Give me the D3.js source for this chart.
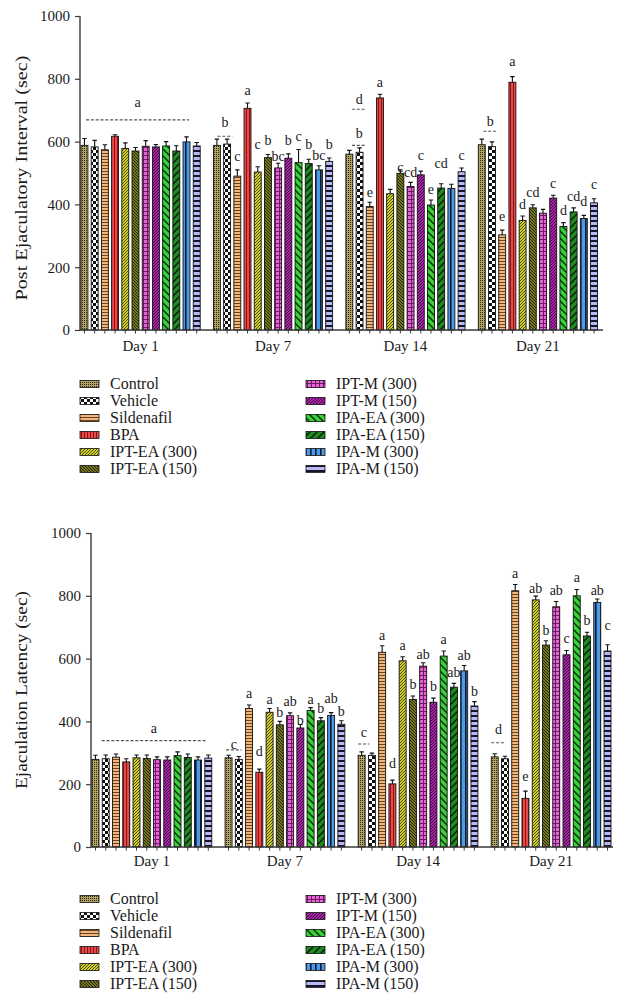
<!DOCTYPE html>
<html>
<head>
<meta charset="utf-8">
<script src="https://cdn.jsdelivr.net/npm/d3@7"></script>
<style>
  html, body { margin: 0; padding: 0; background: #fff; }
  svg { display: block; }
  text { font-family: "Liberation Serif", "Times New Roman", serif; fill: #1a1a1a; }
</style>
</head>
<body>
<svg id="chart" width="625" height="1004"></svg>
<script>
// ---------------- DATA ----------------
const days = ["Day 1", "Day 7", "Day 14", "Day 21"];
const groups = ["Control", "Vehicle", "Sildenafil", "BPA", "IPT-EA (300)", "IPT-EA (150)",
                "IPT-M (300)", "IPT-M (150)", "IPA-EA (300)", "IPA-EA (150)", "IPA-M (300)", "IPA-M (150)"];
const yTicks = [0, 200, 400, 600, 800, 1000];

// Post Ejaculatory Interval (sec)
const peiDay1  = [588, 583, 574, 617, 578, 570, 585, 583, 586, 570, 599, 586];
const peiDay7  = [588, 592, 490, 706, 503, 549, 516, 547, 533, 530, 510, 537];
const peiDay14 = [560, 566, 393, 739, 434, 499, 457, 494, 398, 452, 451, 504];
const peiDay21 = [590, 584, 303, 789, 349, 389, 372, 420, 330, 376, 355, 405];
const peiErr1  = [22, 21, 16, 5, 18, 11, 18, 8, 14, 17, 16, 11];
const peiErr7  = [20, 16, 20, 17, 17, 10, 15, 14, 42, 14, 13, 11];
const peiErr14 = [12, 14, 14, 12, 14, 11, 13, 12, 16, 14, 13, 12];
const peiErr21 = [18, 15, 15, 18, 14, 10, 12, 9, 12, 13, 10, 13];
const peiLet1  = ["", "", "", "", "", "", "", "", "", "", "", ""];
const peiLet7  = ["", "", "c", "a", "c", "b", "bc", "b", "c", "b", "bc", "b"];
const peiLet14 = ["", "", "e", "a", "", "c", "cd", "c", "e", "cd", "", "c"];
const peiLet21 = ["", "", "e", "a", "d", "cd", "", "c", "d", "cd", "d", "c"];
const peiLetY1  = [0, 0, 0, 0, 0, 0, 0, 0, 0, 0, 0, 0];
const peiLetY7  = [0, 0, 551, 764, 592, 602, 554, 602, 616, 592, 557, 592];
const peiLetY14 = [0, 0, 438, 789, 0, 517, 502, 555, 446, 531, 0, 557];
const peiLetY21 = [0, 0, 361, 855, 401, 438, 0, 465, 382, 425, 409, 462];
// shared-letter brackets (dashed lines)
const peiBrDay   = ["Day 1", "Day 7", "Day 14", "Day 14", "Day 21"];
const peiBrFrom  = [0.5, 0.4, 0.6, 0.6, 0.5];
const peiBrTo    = [10.6, 1.85, 2.0, 2.0, 1.86];
const peiBrValue = [669, 617, 703, 588, 633];
const peiBrLabel = ["a", "b", "d", "b", "b"];
const peiBrLabelY = [723, 662, 735, 626, 663];

// Ejaculation Latency (sec)
const elDay1  = [279, 281, 286, 271, 284, 282, 278, 277, 291, 285, 277, 283];
const elDay7  = [284, 279, 441, 238, 429, 389, 418, 379, 435, 402, 419, 391];
const elDay14 = [292, 292, 620, 201, 593, 470, 576, 461, 608, 509, 561, 449];
const elDay21 = [287, 281, 816, 155, 787, 643, 765, 612, 800, 672, 779, 624];
const elErr1  = [13, 12, 10, 10, 9, 11, 9, 10, 12, 11, 10, 10];
const elErr7  = [8, 9, 11, 10, 12, 11, 9, 11, 9, 10, 9, 11];
const elErr14 = [11, 7, 21, 12, 13, 11, 11, 13, 16, 12, 17, 14];
const elErr21 = [10, 8, 20, 23, 12, 14, 17, 14, 20, 12, 11, 20];
const elLet1  = ["", "", "", "", "", "", "", "", "", "", "", ""];
const elLet7  = ["", "", "a", "d", "a", "b", "ab", "b", "a", "b", "ab", "b"];
const elLet14 = ["", "", "a", "d", "a", "b", "ab", "b", "a", "ab", "ab", "b"];
const elLet21 = ["", "", "a", "e", "ab", "b", "ab", "c", "a", "b", "ab", "c"];
const elLetY1  = [0, 0, 0, 0, 0, 0, 0, 0, 0, 0, 0, 0];
const elLetY7  = [0, 0, 489, 304, 470, 428, 463, 404, 471, 441, 474, 433];
const elLetY14 = [0, 0, 673, 267, 643, 518, 614, 511, 662, 556, 611, 494];
const elLetY21 = [0, 0, 871, 226, 824, 691, 816, 664, 859, 720, 816, 704];
const elBrDay   = ["Day 1", "Day 7", "Day 14", "Day 21"];
const elBrFrom  = [0.95, 0.1, 0.0, 0.0];
const elBrTo    = [11.1, 1.6, 1.1, 1.4];
const elBrValue = [339, 309, 328, 332];
const elBrLabel = ["a", "c", "c", "d"];
const elBrLabelY = [378, 327, 365, 373];

// ---------------- DRAWING ----------------
const svg = d3.select("#chart");
svg.append("rect").attr("width", 625).attr("height", 1004).attr("fill", "#fff");
const defs = svg.append("defs");

function pat(id, w, h, bg, draw) {
  const p = defs.append("pattern").attr("id", id)
    .attr("patternUnits", "userSpaceOnUse").attr("width", w).attr("height", h);
  p.append("rect").attr("width", w).attr("height", h).attr("fill", bg);
  draw(p);
}
pat("p0", 2, 2, "#b3a466", p => p.append("rect").attr("width", 1).attr("height", 1).attr("fill", "#2c2812"));
pat("p1", 6, 6, "#ffffff", p => {
  p.append("rect").attr("width", 3).attr("height", 3).attr("fill", "#111");
  p.append("rect").attr("x", 3).attr("y", 3).attr("width", 3).attr("height", 3).attr("fill", "#111");
});
pat("p2", 3, 3, "#f4b77a", p => p.append("rect").attr("width", 3).attr("height", 1).attr("fill", "#6a4322"));
pat("p3", 3, 3, "#e84848", p => p.append("rect").attr("width", 1).attr("height", 3).attr("fill", "#8a1414"));
pat("p4", 3, 3, "#d2d22a", p => p.append("path").attr("d", "M0,3 L3,0 M-1,1 L1,-1 M2,4 L4,2").attr("stroke", "#3a3a08").attr("stroke-width", 0.9));
pat("p5", 3, 3, "#77771e", p => p.append("path").attr("d", "M0,0 L3,3 M-1,2 L1,4 M2,-1 L4,1").attr("stroke", "#1c1c04").attr("stroke-width", 0.9));
pat("p6", 4, 4, "#e564d6", p => {
  p.append("rect").attr("x", 3).attr("width", 1).attr("height", 4).attr("fill", "#6e1a62");
  p.append("rect").attr("y", 3).attr("width", 4).attr("height", 1).attr("fill", "#6e1a62");
});
pat("p7", 3, 3, "#aa26a8", p => p.append("path").attr("d", "M0,3 L3,0 M-1,1 L1,-1 M2,4 L4,2").attr("stroke", "#38003a").attr("stroke-width", 0.9));
pat("p8", 7, 7, "#36d236", p => p.append("path").attr("d", "M0,0 L7,7 M-1,6 L1,8 M6,-1 L8,1").attr("stroke", "#0a2a0a").attr("stroke-width", 1.4));
pat("p9", 7, 7, "#1f8a1f", p => p.append("path").attr("d", "M0,7 L7,0 M-1,1 L1,-1 M6,8 L8,6").attr("stroke", "#041a04").attr("stroke-width", 1.4));
pat("p10", 5, 5, "#4d9be8", p => p.append("rect").attr("width", 1.6).attr("height", 5).attr("fill", "#0b1a2e"));
pat("p11", 5, 5, "#b8b8f4", p => p.append("rect").attr("width", 5).attr("height", 2).attr("fill", "#15152a"));

const fills = groups.map((g, i) => `url(#p${i})`);

function drawChart(cfg) {
  const g = svg.append("g");
  const x0 = d3.scaleBand().domain(days).range(cfg.xRange).paddingInner(0.1).paddingOuter(0);
  const x1 = d3.scaleBand().domain(groups).range([0, x0.bandwidth()]).paddingInner(0.32).paddingOuter(0);
  const y = d3.scaleLinear().domain([0, 1000]).range(cfg.yRange);
  const step = x1.step();

  // y axis
  const yAxis = g.append("g").attr("transform", `translate(${cfg.axisX},0)`)
    .call(d3.axisLeft(y).tickValues(yTicks).tickSize(5).tickPadding(5).tickFormat(d3.format("d")));
  yAxis.attr("font-family", null).attr("font-size", null);
  yAxis.select(".domain").attr("stroke", "#3a3a3a").attr("stroke-width", 1.4).attr("d", `M0,${y(1000)}V${y(0)}`);
  yAxis.selectAll(".tick line").attr("stroke", "#3a3a3a").attr("stroke-width", 1.2);
  yAxis.selectAll(".tick text").attr("font-size", 15).attr("fill", "#1a1a1a");

  g.append("text")
    .attr("transform", `translate(${cfg.titleX},${cfg.titleY}) rotate(-90)`)
    .attr("text-anchor", "middle").attr("font-size", cfg.titleSize)
    .attr("textLength", cfg.titleLen).attr("lengthAdjust", "spacingAndGlyphs").text(cfg.title);

  // bars
  cfg.series.forEach((vals, di) => {
    const day = days[di];
    const gx = x0(day);
    const dg = g.append("g");
    dg.selectAll("rect.bar").data(groups).join("rect").attr("class", "bar")
      .attr("x", gr => gx + x1(gr)).attr("y", (gr, i) => y(vals[i]))
      .attr("width", x1.bandwidth()).attr("height", (gr, i) => y(0) - y(vals[i]))
      .attr("fill", (gr, i) => fills[i]).attr("stroke", "#111").attr("stroke-width", 0.9);
    // error bars
    const errs = cfg.errors[di];
    dg.selectAll("path.err").data(groups).join("path").attr("class", "err")
      .attr("d", (gr, i) => {
        const cx = gx + x1(gr) + x1.bandwidth() / 2;
        const t = y(vals[i] + errs[i]);
        return `M${cx},${y(vals[i])}V${t}M${cx - 2.2},${t}H${cx + 2.2}`;
      }).attr("stroke", "#111").attr("stroke-width", 1.1).attr("fill", "none");
    // x ticks under each bar
    dg.selectAll("line.xt").data(groups).join("line").attr("class", "xt")
      .attr("x1", gr => gx + x1(gr) + x1.bandwidth() / 2).attr("x2", gr => gx + x1(gr) + x1.bandwidth() / 2)
      .attr("y1", y(0)).attr("y2", y(0) + 3.5).attr("stroke", "#3a3a3a").attr("stroke-width", 1);
    // letters
    const lets = cfg.letters[di], letY = cfg.letterY[di];
    dg.selectAll("text.let").data(groups.filter((gr, i) => lets[i] !== "")).join("text").attr("class", "let")
      .attr("x", gr => gx + x1(gr) + x1.bandwidth() / 2)
      .attr("y", gr => y(letY[groups.indexOf(gr)]))
      .attr("dy", "0.32em").attr("text-anchor", "middle").attr("font-size", 14)
      .text(gr => lets[groups.indexOf(gr)]);
    // day label
    g.append("text").attr("x", gx + x0.bandwidth() / 2).attr("y", y(0) + cfg.dayDy)
      .attr("text-anchor", "middle").attr("font-size", 15).text(day);
  });

  // x axis line
  g.append("line").attr("x1", cfg.axisX).attr("x2", cfg.xAxisEnd).attr("y1", y(0)).attr("y2", y(0))
    .attr("stroke", "#3a3a3a").attr("stroke-width", 1.4);

  // brackets (dashed lines with shared letters)
  cfg.brDay.forEach((d, k) => {
    const gx = x0(d);
    const xa = gx + cfg.brFrom[k] * step, xb = gx + cfg.brTo[k] * step;
    g.append("line").attr("x1", xa).attr("x2", xb).attr("y1", y(cfg.brValue[k])).attr("y2", y(cfg.brValue[k]))
      .attr("stroke", "#555").attr("stroke-width", 1.2).attr("stroke-dasharray", "3,1.8");
    g.append("text").attr("x", (xa + xb) / 2).attr("y", y(cfg.brLabelY[k])).attr("dy", "0.32em")
      .attr("text-anchor", "middle").attr("font-size", 14).text(cfg.brLabel[k]);
  });

  // legend
  const lg = g.append("g");
  groups.forEach((gr, i) => {
    const col = i < 6 ? 0 : 1, row = i % 6;
    const lx = cfg.legendX[col], ly = cfg.legendY + row * 17;
    lg.append("rect").attr("x", lx).attr("y", ly - 8.5).attr("width", 19).attr("height", 7)
      .attr("fill", fills[i]).attr("stroke", "#111").attr("stroke-width", 0.8);
    lg.append("text").attr("x", lx + 30).attr("y", ly).attr("font-size", 16).text(gr);
  });
}

drawChart({
  xRange: [81, 597.5], yRange: [330, 16], axisX: 80, xAxisEnd: 603, titleX: 27, titleY: 178, titleSize: 17, titleLen: 245, dayDy: 21,
  title: "Post Ejaculatory Interval (sec)",
  series: [peiDay1, peiDay7, peiDay14, peiDay21],
  errors: [peiErr1, peiErr7, peiErr14, peiErr21],
  letters: [peiLet1, peiLet7, peiLet14, peiLet21],
  letterY: [peiLetY1, peiLetY7, peiLetY14, peiLetY21],
  brDay: peiBrDay, brFrom: peiBrFrom, brTo: peiBrTo, brValue: peiBrValue, brLabel: peiBrLabel, brLabelY: peiBrLabelY,
  legendX: [80, 306], legendY: 389
});

drawChart({
  xRange: [92, 611], yRange: [847, 533], axisX: 91, xAxisEnd: 613, titleX: 27, titleY: 690, titleSize: 17, titleLen: 198, dayDy: 19,
  title: "Ejaculation Latency (sec)",
  series: [elDay1, elDay7, elDay14, elDay21],
  errors: [elErr1, elErr7, elErr14, elErr21],
  letters: [elLet1, elLet7, elLet14, elLet21],
  letterY: [elLetY1, elLetY7, elLetY14, elLetY21],
  brDay: elBrDay, brFrom: elBrFrom, brTo: elBrTo, brValue: elBrValue, brLabel: elBrLabel, brLabelY: elBrLabelY,
  legendX: [80, 306], legendY: 904
});
</script>
</body>
</html>
